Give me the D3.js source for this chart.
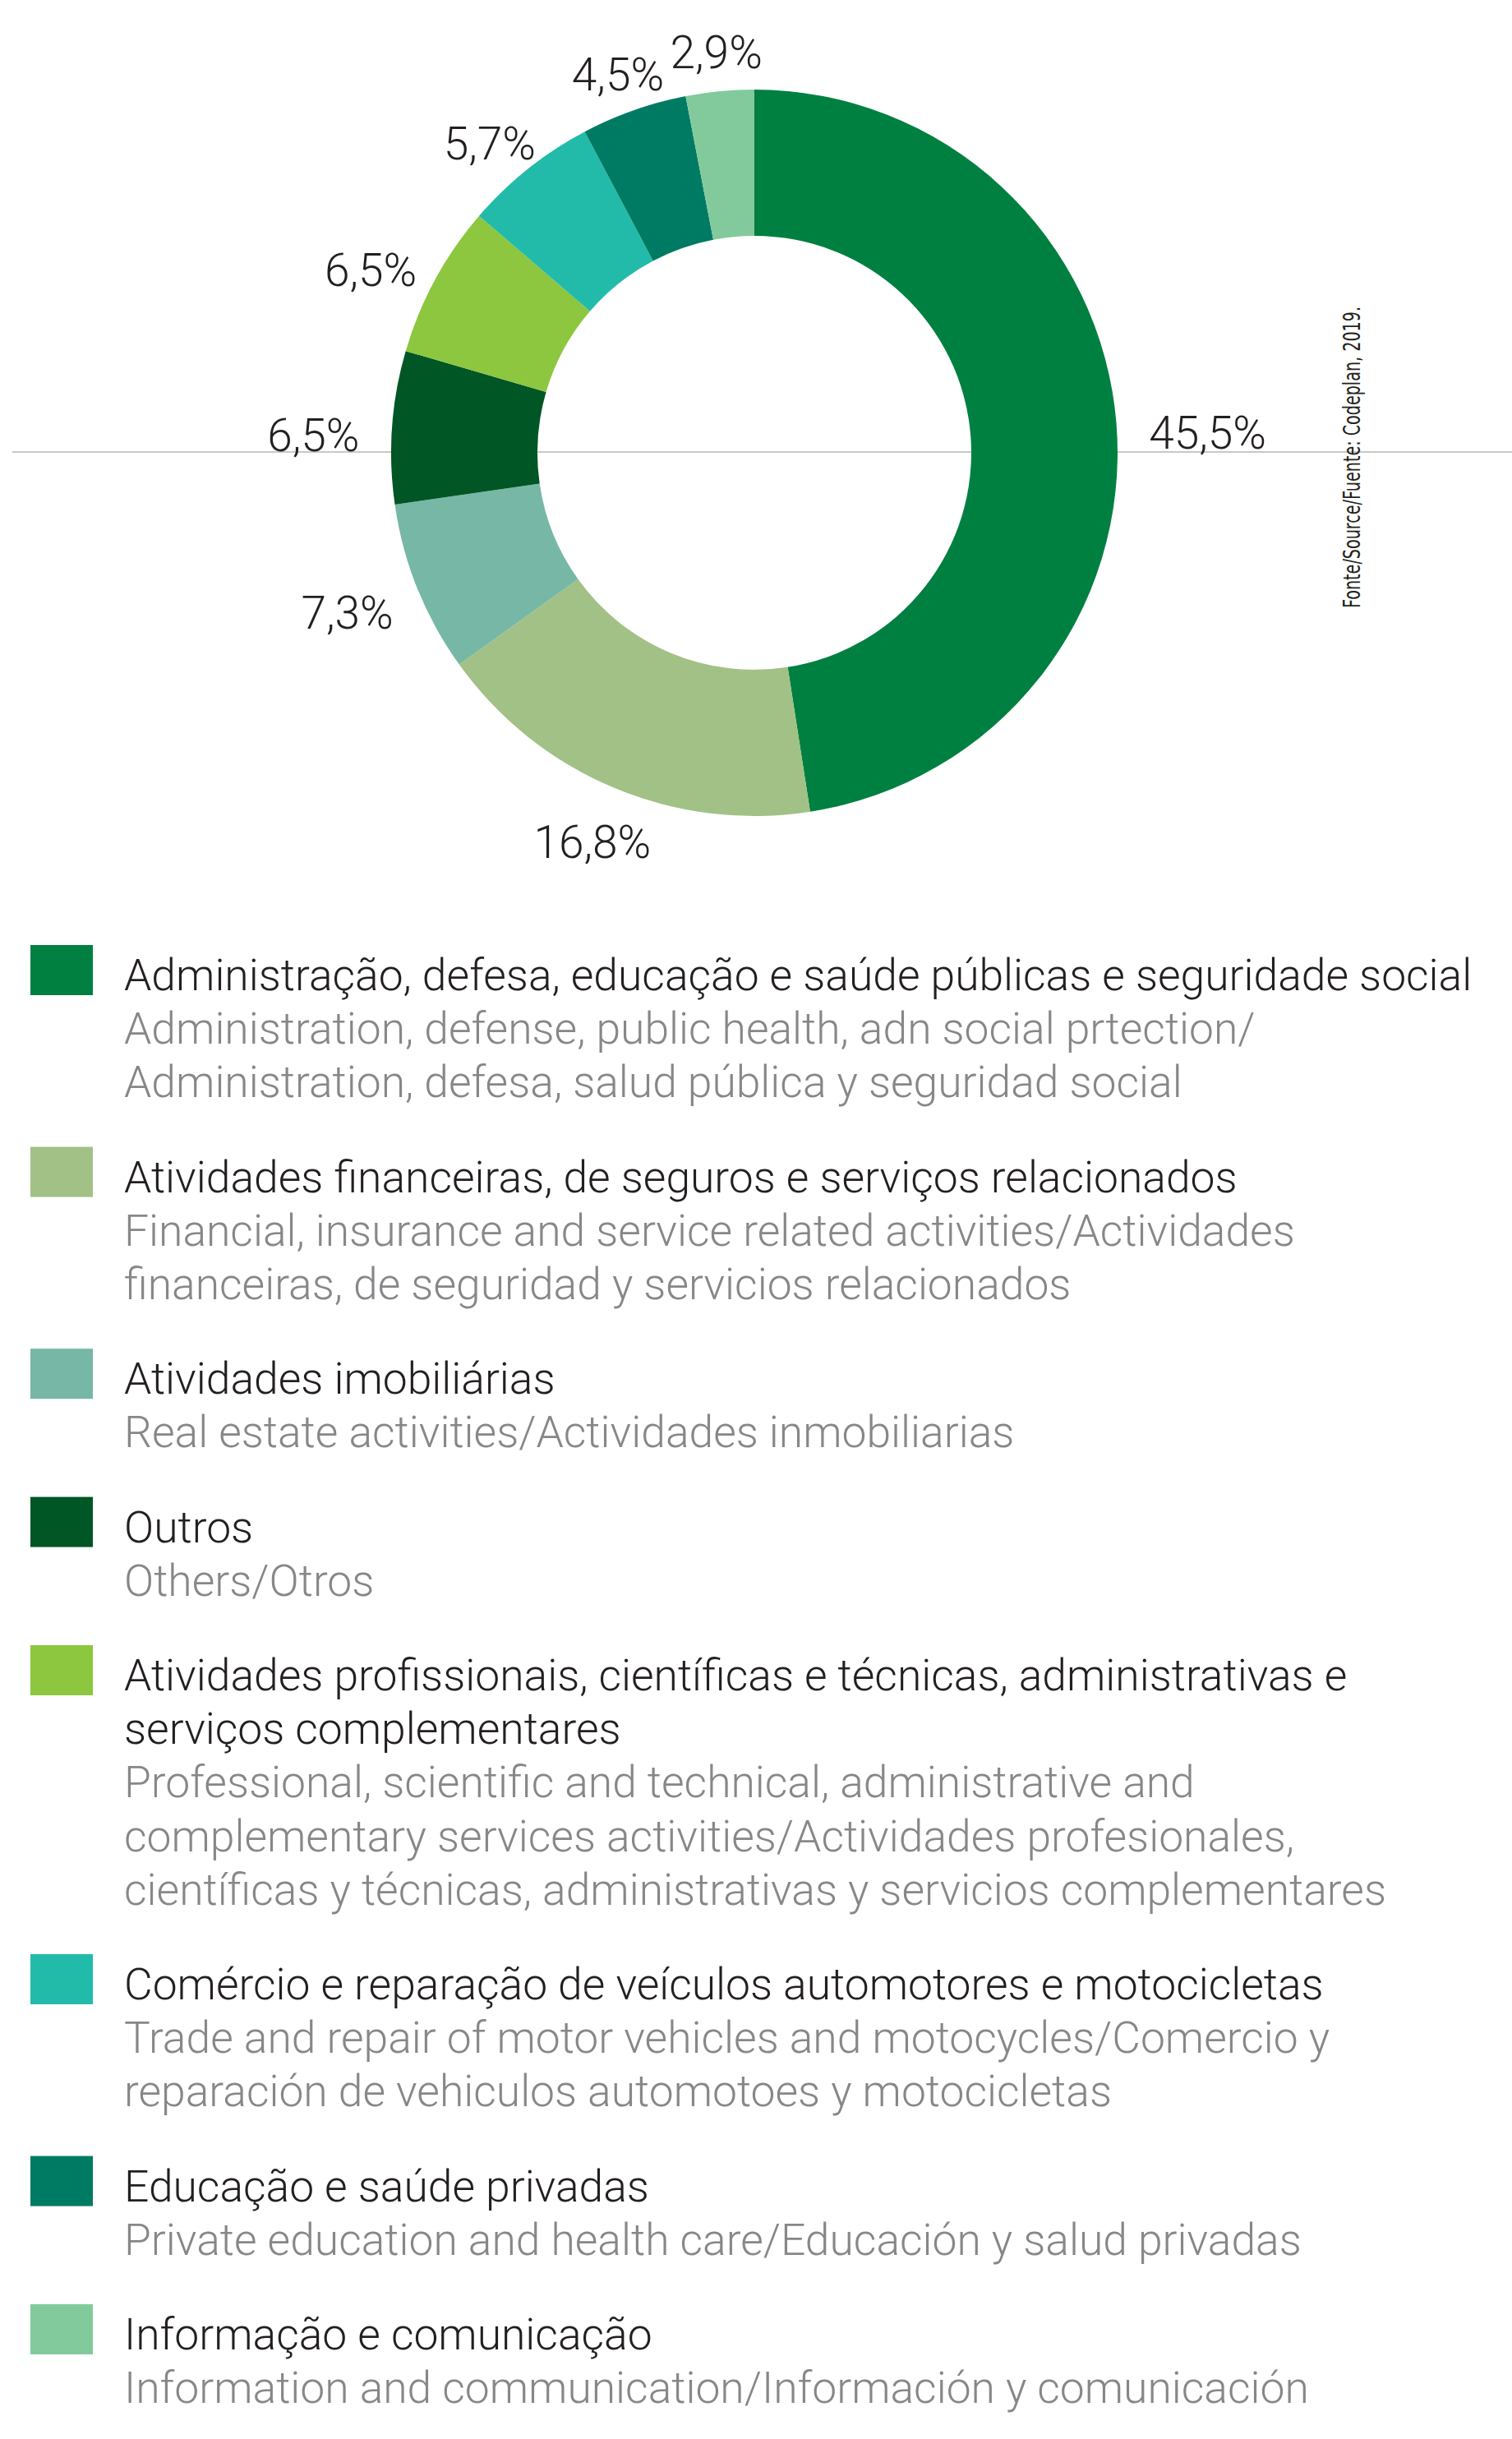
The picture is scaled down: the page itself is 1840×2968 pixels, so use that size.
<!DOCTYPE html>
<html>
<head>
<meta charset="utf-8">
<script src="https://cdn.jsdelivr.net/npm/d3@7"></script>
<style>
  html, body { margin: 0; padding: 0; background: #ffffff; }
  svg { display: block; }
</style>
</head>
<body>
<svg id="chart" width="1840" height="2968"></svg>
<script>
// ---- data ----
const categories = [
  "Administração, defesa, educação e saúde públicas e seguridade social",
  "Atividades financeiras, de seguros e serviços relacionados",
  "Atividades imobiliárias",
  "Outros",
  "Atividades profissionais, científicas e técnicas, administrativas e serviços complementares",
  "Comércio e reparação de veículos automotores e motocicletas",
  "Educação e saúde privadas",
  "Informação e comunicação"
];
const values = [45.5, 16.8, 7.3, 6.5, 6.5, 5.7, 4.5, 2.9];
const colors = ["#008040", "#a2c186", "#77b7a5", "#005624", "#8dc63f", "#22bbaa", "#007b63", "#82ca9c"];
const mainLines = [
  ["Administração, defesa, educação e saúde públicas e seguridade social"],
  ["Atividades financeiras, de seguros e serviços relacionados"],
  ["Atividades imobiliárias"],
  ["Outros"],
  ["Atividades profissionais, científicas e técnicas, administrativas e", "serviços complementares"],
  ["Comércio e reparação de veículos automotores e motocicletas"],
  ["Educação e saúde privadas"],
  ["Informação e comunicação"]
];
const subLines = [
  ["Administration, defense, public health, adn social prtection/", "Administration, defesa, salud pública y seguridad social"],
  ["Financial, insurance and service related activities/Actividades", "financeiras, de seguridad y servicios relacionados"],
  ["Real estate activities/Actividades inmobiliarias"],
  ["Others/Otros"],
  ["Professional, scientific and technical, administrative and", "complementary services activities/Actividades profesionales,", "científicas y técnicas, administrativas y servicios complementares"],
  ["Trade and repair of motor vehicles and motocycles/Comercio y", "reparación de vehiculos automotoes y motocicletas"],
  ["Private education and health care/Educación y salud privadas"],
  ["Information and communication/Información y comunicación"]
];
const sourceText = "Fonte/Source/Fuente: Codeplan, 2019.";

// ---- layout ----
const svg = d3.select("#chart");
const W = 1840;
const cx = 918, cy = 551;
const rOuter = 442, rInner = 264;
const FONT = "Roboto, 'Open Sans', sans-serif";

// horizontal guide line
svg.append("line")
  .attr("x1", 15).attr("x2", W)
  .attr("y1", cy - 1).attr("y2", cy - 1)
  .attr("stroke", "#c8c8c8").attr("stroke-width", 2);

const pie = d3.pie().sort(null).value(d => d);
const arcs = pie(values);
const arc = d3.arc().innerRadius(rInner).outerRadius(rOuter);

const g = svg.append("g").attr("transform", `translate(${cx},${cy})`);
g.selectAll("path.slice")
  .data(arcs)
  .join("path")
  .attr("class", "slice")
  .attr("d", arc)
  .attr("fill", (d, i) => colors[i]);

// percent labels
const fmt = v => d3.format(".1f")(v).replace(".", ",") + "%";
const labelFont = 55;
const lab = g.selectAll("text.pct")
  .data(arcs)
  .join("text")
  .attr("class", "pct")
  .attr("font-family", FONT)
  .attr("font-weight", 300)
  .attr("font-size", labelFont)
  .attr("fill", "#231f20")
  .attr("text-anchor", "middle")
  .text(d => fmt(d.data));

lab.each(function(d) {
  const w = this.getComputedTextLength();
  const h = labelFont * 0.72;
  const a = (d.startAngle + d.endAngle) / 2;
  const s = Math.sin(a), c = -Math.cos(a);
  const R = 482;
  const x = s * (R + (w / 2) * Math.abs(s));
  const y = c * (R + (h / 2) * Math.abs(c));
  d3.select(this).attr("x", x).attr("y", y + h / 2 + 12);
});

// source text (vertical)
svg.append("text")
  .attr("transform", "translate(1655,740) rotate(-90)")
  .attr("font-family", "'Liberation Sans Narrow', 'DejaVu Sans Condensed', sans-serif")
  .attr("font-size", 28)
  .attr("fill", "#231f20")
  .attr("textLength", 367)
  .attr("lengthAdjust", "spacingAndGlyphs")
  .text(sourceText);

// ---- legend ----
const legendX = 37, swW = 76, textX = 151;
const lineH = 65.2, groupGap = 50;
const firstBaseline = 1205;
const legFont = 53.4;

let base = firstBaseline;
categories.forEach((cat, i) => {
  const grp = svg.append("g").attr("class", "legend-item");
  grp.append("rect")
    .attr("x", legendX).attr("y", base - 55)
    .attr("width", swW).attr("height", 61)
    .attr("fill", colors[i]);
  let y = base;
  mainLines[i].forEach(t => {
    grp.append("text")
      .attr("x", textX).attr("y", y)
      .attr("font-family", FONT)
      .attr("font-weight", 300)
      .attr("font-size", legFont)
      .attr("fill", "#231f20")
      .text(t);
    y += lineH;
  });
  subLines[i].forEach(t => {
    grp.append("text")
      .attr("x", textX).attr("y", y)
      .attr("font-family", FONT)
      .attr("font-weight", 300)
      .attr("font-size", legFont)
      .attr("fill", "#87878a")
      .text(t);
    y += lineH;
  });
  base = y + groupGap;
});
</script>
</body>
</html>
